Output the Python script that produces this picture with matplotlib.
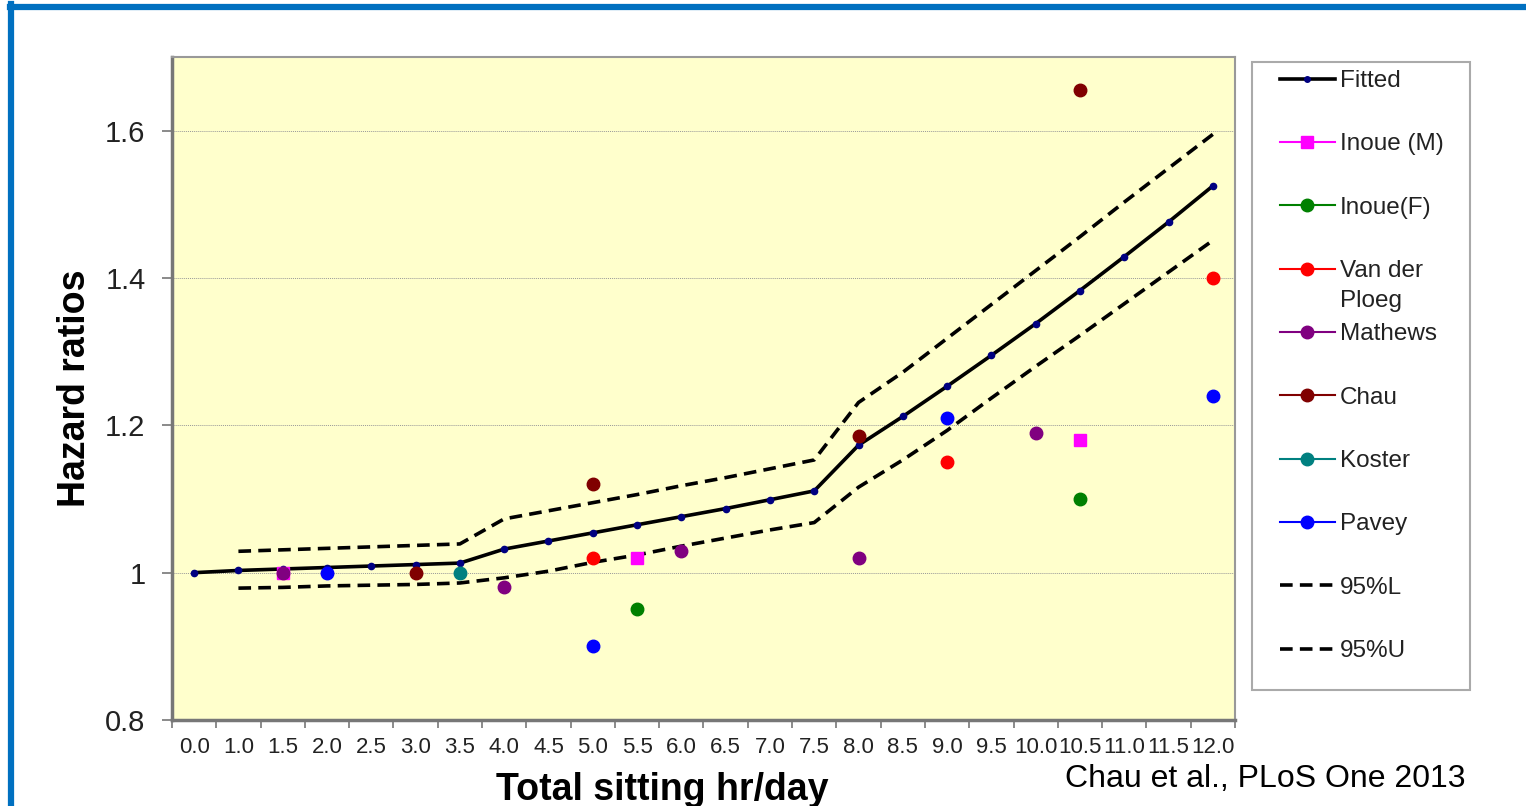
import matplotlib.pyplot as plt
from matplotlib.lines import Line2D
from matplotlib.patches import Rectangle
import numpy as np

plt.rcParams['font.family'] = ['Liberation Sans', 'DejaVu Sans']

# x categories (hours of sitting per day)
hours = ['0.0', '1.0', '1.5', '2.0', '2.5', '3.0', '3.5', '4.0', '4.5', '5.0', '5.5', '6.0',
         '6.5', '7.0', '7.5', '8.0', '8.5', '9.0', '9.5', '10.0', '10.5', '11.0', '11.5', '12.0']

fitted = [1.000, 1.003, 1.005, 1.007, 1.009, 1.011, 1.013, 1.032, 1.043, 1.054, 1.065, 1.076,
          1.087, 1.099, 1.111, 1.173, 1.212, 1.253, 1.295, 1.338, 1.383, 1.429, 1.476, 1.525]
# confidence bands start at 1.0 hr
lower95 = [None, 0.979, 0.980, 0.982, 0.983, 0.984, 0.986, 0.993, 1.002, 1.014, 1.024, 1.036,
           1.047, 1.058, 1.068, 1.116, 1.153, 1.193, 1.237, 1.280, 1.322, 1.365, 1.408, 1.451]
upper95 = [None, 1.029, 1.031, 1.033, 1.035, 1.037, 1.039, 1.073, 1.084, 1.095, 1.106, 1.118,
           1.129, 1.141, 1.153, 1.231, 1.272, 1.318, 1.364, 1.410, 1.456, 1.503, 1.549, 1.595]

# individual studies: (hour label, hazard ratio)
studies = {
    'Inoue (M)':      [('1.5', 1.00), ('5.5', 1.02), ('10.5', 1.18)],
    'Inoue(F)':       [('5.5', 0.95), ('10.5', 1.10)],
    'Van der Ploeg':  [('5.0', 1.02), ('9.0', 1.15), ('12.0', 1.40)],
    'Mathews':        [('1.5', 1.00), ('4.0', 0.98), ('6.0', 1.03), ('8.0', 1.02), ('10.0', 1.19)],
    'Chau':           [('3.0', 1.00), ('5.0', 1.12), ('8.0', 1.185), ('10.5', 1.655)],
    'Koster':         [('3.5', 1.00)],
    'Pavey':          [('2.0', 1.00), ('5.0', 0.90), ('9.0', 1.21), ('12.0', 1.24)],
}
colors = {'Inoue (M)': '#ff00ff', 'Inoue(F)': '#008000', 'Van der Ploeg': '#ff0000',
          'Mathews': '#800080', 'Chau': '#800000', 'Koster': '#008080', 'Pavey': '#0000ff'}
markers = {'Inoue (M)': 's'}

W, H = 1526, 806
fig = plt.figure(figsize=(W / 100, H / 100), dpi=100)
ax = fig.add_axes([0.1127, 0.1067, 0.6966, 0.8226])
ax.set_facecolor('#ffffcc')

x = np.arange(len(hours))
xl = x[1:]
ax.plot(x, fitted, color='black', lw=2.6, marker='o', ms=4.5, mfc='#000080', mec='#000080', zorder=4)
ax.plot(xl, lower95[1:], color='black', lw=2.6, ls=(0, (3.5, 2)), zorder=3)
ax.plot(xl, upper95[1:], color='black', lw=2.6, ls=(0, (3.5, 2)), zorder=3)

for name, pts in studies.items():
    px = [hours.index(h) for h, v in pts]
    py = [v for h, v in pts]
    ax.plot(px, py, ls='none', marker=markers.get(name, 'o'), ms=9, color=colors[name], zorder=5)

# Axes tweaks
ax.set_xlim(-0.5, len(hours) - 0.5)
ax.set_ylim(0.8, 1.7)
ax.set_xticks(x)
ax.set_xticklabels(hours, fontsize=16, color='#222222')
ax.set_xticks(np.arange(len(hours) + 1) - 0.5, minor=True)
ax.tick_params(axis='x', which='major', length=0, pad=12)
ax.tick_params(axis='x', which='minor', length=6, color='#777777', width=1.2)
ax.set_yticks([0.8, 1.0, 1.2, 1.4, 1.6])
ax.set_yticklabels(['0.8', '1', '1.2', '1.4', '1.6'], fontsize=21, color='#222222')
ax.tick_params(axis='y', length=7, color='#777777', width=1.2, pad=12)
ax.grid(axis='y', color='#999999', lw=0.7, ls=(0, (1, 1)))
for s in ax.spines.values():
    s.set_color('#999999')
    s.set_linewidth(1.5)
ax.spines['left'].set_color('#777777')
ax.spines['left'].set_linewidth(2.5)
ax.spines['bottom'].set_color('#777777')
ax.spines['bottom'].set_linewidth(2.5)

ax.set_xlabel('Total sitting hr/day', fontsize=27, fontweight='bold')
ax.xaxis.set_label_coords(0.461, -0.079)
ax.set_ylabel('Hazard ratios', fontsize=27, fontweight='bold', labelpad=9)

# Legend (frame drawn separately so spacing can follow the original)
handles = [Line2D([], [], color='black', lw=2.6, marker='o', ms=4, mfc='#000080', mec='#000080')]
labels = ['Fitted']
for name in studies:
    handles.append(Line2D([], [], color=colors[name], lw=1.5, marker=markers.get(name, 'o'), ms=9))
    labels.append(name.replace('der Ploeg', 'der'))
handles.append(Line2D([], [], color='black', lw=2.6, ls=(0, (3.5, 2))))
labels.append('95%L')
handles.append(Line2D([], [], color='black', lw=2.6, ls=(0, (3.5, 2))))
labels.append('95%U')
leg = fig.legend(handles, labels, loc='upper left', bbox_to_anchor=(1280 / W, 1 - 70 / H),
                 fontsize=17.5, labelspacing=1.7, handlelength=2.25, handletextpad=0.2,
                 borderpad=0, borderaxespad=0, frameon=False)
for t in leg.get_texts():
    t.set_color('#222222')
fig.add_artist(Rectangle((1252 / W, 1 - 690 / H), 218 / W, 628 / H, transform=fig.transFigure,
                         facecolor='white', edgecolor='#aaaaaa', lw=1.5, zorder=0))

# second line of the "Van der Ploeg" entry
fig.canvas.draw()
vt = leg.get_texts()[3].get_window_extent()
fig.text(vt.x0 / W, (vt.y0 - 30) / H + (vt.height / 2) / H, 'Ploeg', fontsize=17.5,
         color='#222222', ha='left', va='center')

# Citation
fig.text(0.9606, 0.033, 'Chau et al., PLoS One 2013', fontsize=23, ha='right', va='center')

# Blue frame (top and left edges)
fig.add_artist(Line2D([0.0066, 1.0], [0.9917, 0.9917], transform=fig.transFigure, color='#0070c0', lw=4.5))
fig.add_artist(Line2D([0.0072, 0.0072], [0.0, 0.9945], transform=fig.transFigure, color='#0070c0', lw=4.5))

fig.savefig('out.png', dpi=100)
